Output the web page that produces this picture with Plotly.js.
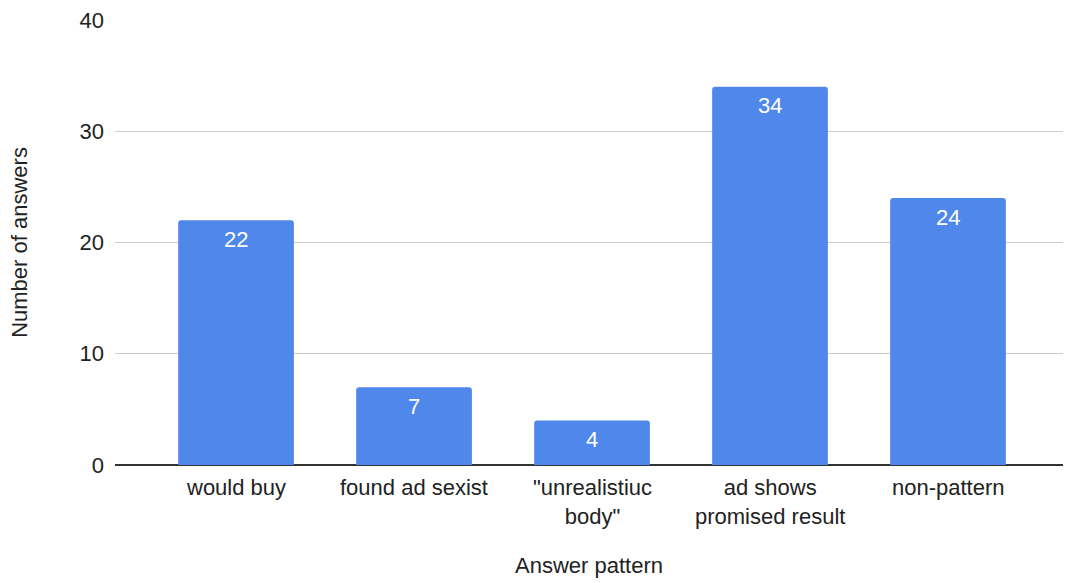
<!DOCTYPE html>
<html>
<head>
<meta charset="utf-8">
<script src="https://cdn.plot.ly/plotly-3.0.1.min.js"></script>
<style>html,body{margin:0;padding:0;background:#fff;}#chart{width:1074px;height:583px;}</style>
</head>
<body>
<div id="chart"></div>
<script>
const categories = ["would buy", "found ad sexist", "\"unrealistiuc<br>body\"", "ad shows<br>promised result", "non-pattern"];
const answers = [22, 7, 4, 34, 24];
const yTicks = [0, 10, 20, 30, 40];

const font = "Liberation Sans, Arial, sans-serif";

const annotations = [];
// value labels inside the top of each bar
categories.forEach((c, i) => {
  annotations.push({
    x: c, y: answers[i], xref: "x", yref: "y",
    text: String(answers[i]), showarrow: false,
    yanchor: "middle", yshift: -19,
    font: {family: font, size: 22, color: "#ffffff"}
  });
});
// category labels under the axis
categories.forEach((c) => {
  annotations.push({
    x: c, y: 0, xref: "x", yref: "y",
    text: c, showarrow: false, align: "center",
    yanchor: "top", yshift: -9, borderpad: 0,
    font: {family: font, size: 22, color: "#222222"}
  });
});

Plotly.newPlot("chart", [{
  type: "bar",
  x: categories,
  y: answers,
  marker: {color: "#4f87eb", cornerradius: 3},
  width: 0.65,
  hoverinfo: "x+y"
}], {
  width: 1074, height: 583,
  margin: {l: 115, r: 11, t: 20, b: 118},
  paper_bgcolor: "#ffffff", plot_bgcolor: "#ffffff",
  font: {family: font, size: 22, color: "#222222"},
  showlegend: false,
  annotations: annotations,
  xaxis: {
    type: "category",
    range: [-0.68, 4.646],
    showgrid: false,
    ticks: "",
    showticklabels: false,
    title: {text: "Answer pattern", font: {family: font, size: 22, color: "#222222"}, standoff: 92},
    showline: false,
    zeroline: false
  },
  yaxis: {
    range: [0, 40],
    tickvals: yTicks,
    ticktext: yTicks.map(String),
    showgrid: true,
    gridcolor: "#cccccc",
    gridwidth: 1,
    zeroline: true,
    zerolinecolor: "#333333",
    zerolinewidth: 1.5,
    ticks: "",
    ticklabelstandoff: 10,
    tickfont: {family: font, size: 22, color: "#222222"},
    title: {text: "Number of answers", font: {family: font, size: 22, color: "#222222"}, standoff: 45},
    fixedrange: true
  },
  bargap: 0.35
}, {displayModeBar: false, staticPlot: true});
</script>
</body>
</html>
